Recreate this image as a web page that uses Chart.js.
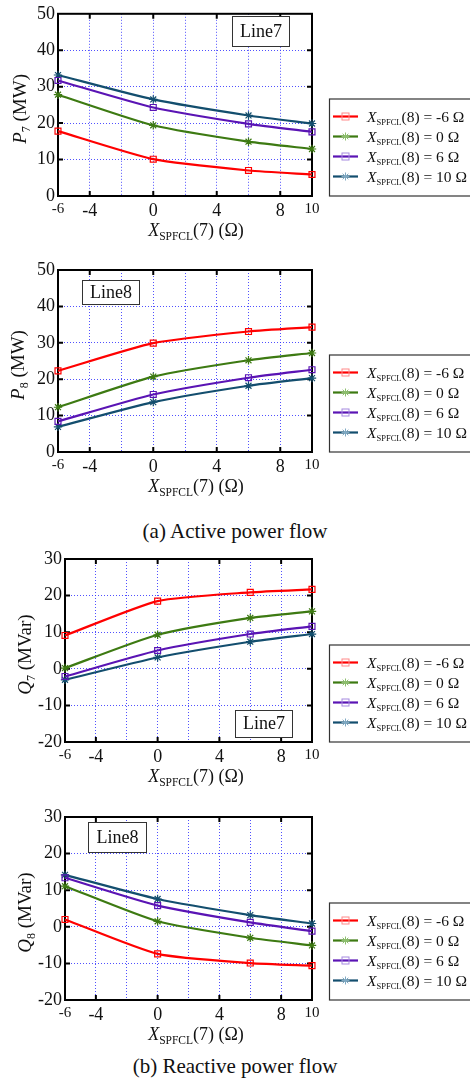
<!DOCTYPE html>
<html>
<head>
<meta charset="utf-8">
<script src="https://cdn.jsdelivr.net/npm/chart.js@4.4.1/dist/chart.umd.min.js"></script>
<style>
  html, body { margin: 0; padding: 0; background: #fff; }
  body { width: 470px; height: 1084px; position: relative; overflow: hidden; }
  .cv { position: absolute; left: 0; }
  .cap { position: absolute; left: 0; width: 470px; text-align: center; font-family: 'Liberation Serif', serif; font-size: 21px; color: #111; }
</style>
</head>
<body>
<div class="cv" style="top:0px;width:470px;height:250px"><canvas id="c1"></canvas></div>
<div class="cv" style="top:250px;width:470px;height:260px"><canvas id="c2"></canvas></div>
<div class="cap" style="top:519px">(a) Active power flow</div>
<div class="cv" style="top:540px;width:470px;height:260px"><canvas id="c3"></canvas></div>
<div class="cv" style="top:800px;width:470px;height:250px"><canvas id="c4"></canvas></div>
<div class="cap" style="top:1054px">(b) Reactive power flow</div>
<script>
// ---------- data ----------
const xValues = [-6, 0, 6, 10];                       // X_SPFCL(7) in ohm
const seriesNames = ['-6', '0', '6', '10'];            // X_SPFCL(8) in ohm
const xTickValues = [-6, -4, -2, 0, 2, 4, 6, 8, 10];
const xTickLabels = ['-6', '-4', '', '0', '', '4', '', '8', '10'];
const pTickValues = [0, 10, 20, 30, 40, 50];
const qTickValues = [-20, -10, 0, 10, 20, 30];

const p7_m6 = [17.8, 10.1, 7.0, 5.9];
const p7_0  = [27.8, 19.4, 14.9, 12.9];
const p7_6  = [31.7, 24.3, 19.8, 17.6];
const p7_10 = [33.2, 26.5, 22.1, 19.9];

const p8_m6 = [22.3, 29.9, 33.1, 34.3];
const p8_0  = [12.3, 20.7, 25.2, 27.2];
const p8_6  = [8.4, 15.8, 20.4, 22.6];
const p8_10 = [6.9, 13.7, 18.2, 20.3];

const q7_m6 = [9.1, 18.5, 20.9, 21.7];
const q7_0  = [0.2, 9.3, 13.9, 15.7];
const q7_6  = [-2.1, 5.0, 9.5, 11.6];
const q7_10 = [-3.0, 3.1, 7.4, 9.5];

const q8_m6 = [2.0, -7.4, -9.9, -10.6];
const q8_0  = [11.1, 1.5, -3.0, -5.1];
const q8_6  = [13.4, 5.8, 1.2, -1.2];
const q8_10 = [14.2, 7.6, 3.2, 0.9];

// ---------- styles ----------
const FONT = "'Liberation Serif', 'Times New Roman', serif";
const lineColors = ['#ff0000', '#3d7a12', '#5a14b4', '#134e6e'];
const legendMarkColors = ['#ff8a8a', '#8cbf6c', '#a58ae0', '#7ea8c2'];
const pointStyles = ['rect', 'star', 'rect', 'star'];
const GRID = 'rgba(50,50,255,0.85)';

function richParts(ctx, parts, x, y, align) {
  let w = 0;
  for (const p of parts) {
    ctx.font = (p.italic ? 'italic ' : '') + p.size + 'px ' + FONT;
    p._w = ctx.measureText(p.t).width;
    w += p._w;
  }
  let cx = align === 'center' ? x - w / 2 : x;
  ctx.textBaseline = 'alphabetic';
  ctx.textAlign = 'left';
  for (const p of parts) {
    ctx.font = (p.italic ? 'italic ' : '') + p.size + 'px ' + FONT;
    ctx.fillText(p.t, cx, y + (p.dy || 0));
    cx += p._w;
  }
}

function makeChart(id, cfg) {
  const datasets = cfg.series.map((vals, i) => ({
    label: seriesNames[i],
    data: xValues.map((x, k) => ({ x: x, y: vals[k] })),
    borderColor: lineColors[i],
    backgroundColor: 'rgba(0,0,0,0)',
    borderWidth: 2.2,
    pointStyle: pointStyles[i],
    pointRadius: 4.2,
    pointBorderWidth: 1.2,
    pointBorderColor: lineColors[i],
    pointBackgroundColor: 'rgba(0,0,0,0)',
    tension: 0.2,
    clip: false
  }));

  const framePlugin = {
    id: 'frame',
    beforeDatasetsDraw(chart) {
      const { ctx, chartArea: a, scales } = chart;
      ctx.save();
      ctx.strokeStyle = '#000';
      ctx.lineWidth = 2;
      ctx.strokeRect(a.left, a.top, a.right - a.left, a.bottom - a.top);
      const tl = 5;
      [-4, 0, 4, 8].forEach(v => {
        const px = scales.x.getPixelForValue(v);
        ctx.beginPath();
        ctx.moveTo(px, a.bottom); ctx.lineTo(px, a.bottom - tl);
        ctx.moveTo(px, a.top); ctx.lineTo(px, a.top + tl);
        ctx.stroke();
      });
      cfg.yTicks.slice(1, -1).forEach(v => {
        const py = scales.y.getPixelForValue(v);
        ctx.beginPath();
        ctx.moveTo(a.left, py); ctx.lineTo(a.left + tl, py);
        ctx.moveTo(a.right, py); ctx.lineTo(a.right - tl, py);
        ctx.stroke();
      });
      ctx.restore();
    },
    afterDraw(chart) {
      const { ctx, chartArea: a } = chart;
      ctx.save();
      ctx.fillStyle = '#111';
      // x axis title
      richParts(ctx, [
        { t: 'X', size: 18, italic: true },
        { t: 'SPFCL', size: 11.5, dy: 4 },
        { t: '(7) (\u03A9)', size: 18 }
      ], 196, a.bottom + 40, 'center');
      // y axis title (rotated)
      ctx.save();
      ctx.translate(cfg.yTitleX, (a.top + a.bottom) / 2 + 4);
      ctx.rotate(-Math.PI / 2);
      richParts(ctx, [
        { t: cfg.yVar, size: 19, italic: true },
        { t: cfg.ySub, size: 12, dy: 4 },
        { t: ' ' + cfg.yUnit, size: 19 }
      ], 0, 6, 'center');
      ctx.restore();
      // Line label box
      const b = cfg.box;
      ctx.fillStyle = '#fff';
      ctx.fillRect(b.x, b.y, b.w, b.h);
      ctx.strokeStyle = '#333';
      ctx.lineWidth = 1;
      ctx.strokeRect(b.x + 0.5, b.y + 0.5, b.w, b.h);
      ctx.fillStyle = '#111';
      ctx.font = '18px ' + FONT;
      ctx.textAlign = 'center';
      ctx.textBaseline = 'middle';
      ctx.fillText(cfg.boxText, b.x + b.w / 2 + 0.5, b.y + b.h / 2 + 1);
      // legend
      const lb = a.bottom;
      const lt = lb - 97;
      ctx.strokeStyle = '#333';
      ctx.lineWidth = 1.2;
      ctx.strokeRect(329.5, lt, 160, lb - lt);
      seriesNames.forEach((name, i) => {
        const y = lb - 79.5 + i * 20;
        ctx.strokeStyle = lineColors[i];
        ctx.lineWidth = 2.2;
        ctx.beginPath();
        ctx.moveTo(333, y); ctx.lineTo(358, y);
        ctx.stroke();
        ctx.strokeStyle = legendMarkColors[i];
        ctx.lineWidth = 1;
        if (pointStyles[i] === 'rect') {
          ctx.strokeRect(342, y - 3.5, 7, 7);
        } else {
          ctx.beginPath();
          const r = 4;
          ctx.moveTo(345.5 - r, y); ctx.lineTo(345.5 + r, y);
          ctx.moveTo(345.5, y - r); ctx.lineTo(345.5, y + r);
          const d = r * 0.707;
          ctx.moveTo(345.5 - d, y - d); ctx.lineTo(345.5 + d, y + d);
          ctx.moveTo(345.5 - d, y + d); ctx.lineTo(345.5 + d, y - d);
          ctx.stroke();
        }
        ctx.fillStyle = '#111';
        richParts(ctx, [
          { t: 'X', size: 15.5, italic: true },
          { t: 'SPFCL', size: 8.5, dy: 3 },
          { t: '(8) = ' + name + ' \u03A9', size: 15.5 }
        ], 367, y + 5, 'left');
      });
      ctx.restore();
    }
  };

  return new Chart(document.getElementById(id), {
    type: 'line',
    data: { datasets },
    options: {
      responsive: true,
      maintainAspectRatio: false,
      animation: false,
      devicePixelRatio: 1,
      layout: { padding: { left: 0, right: 158, top: cfg.padTop, bottom: cfg.padBottom } },
      plugins: { legend: { display: false }, tooltip: { enabled: false } },
      scales: {
        x: {
          type: 'linear', min: -6, max: 10,
          afterBuildTicks: (s) => { s.ticks = xTickValues.map(v => ({ value: v })); },
          afterFit: (s) => { s.height = 26; },
          ticks: {
            autoSkip: false, maxRotation: 0, padding: 4, color: '#111',
            font: (c) => ({ family: FONT, size: (c.tick && (c.tick.value === -6 || c.tick.value === 10)) ? 15 : 18 }),
            callback: (v) => xTickLabels[xTickValues.indexOf(v)]
          },
          grid: {
            drawTicks: false,
            color: (c) => (c.tick && (c.tick.value === -6 || c.tick.value === 10)) ? 'rgba(0,0,0,0)' : GRID,
            lineWidth: 1
          },
          border: { display: false, dash: [1, 2] }
        },
        y: {
          type: 'linear', min: cfg.yTicks[0], max: cfg.yTicks[cfg.yTicks.length - 1],
          afterBuildTicks: (s) => { s.ticks = cfg.yTicks.map(v => ({ value: v })); },
          afterFit: (s) => { s.width = cfg.leftW; },
          ticks: { padding: 3, color: '#111', font: { family: FONT, size: 18 }, callback: (v) => String(v) },
          grid: {
            drawTicks: false,
            color: (c) => (c.index === 0 || c.index === cfg.yTicks.length - 1) ? 'rgba(0,0,0,0)' : GRID,
            lineWidth: 1
          },
          border: { display: false, dash: [1, 2] }
        }
      }
    },
    plugins: [framePlugin]
  });
}

makeChart('c1', {
  series: [p7_m6, p7_0, p7_6, p7_10], yTicks: pTickValues,
  padTop: 13, padBottom: 28, leftW: 58, yTitleX: 20,
  yVar: 'P', ySub: '7', yUnit: '(MW)',
  box: { x: 232, y: 16, w: 57, h: 30 }, boxText: 'Line7'
});
makeChart('c2', {
  series: [p8_m6, p8_0, p8_6, p8_10], yTicks: pTickValues,
  padTop: 20, padBottom: 32, leftW: 58, yTitleX: 18,
  yVar: 'P', ySub: '8', yUnit: '(MW)',
  box: { x: 82, y: 30, w: 57, h: 24 }, boxText: 'Line8'
});
makeChart('c3', {
  series: [q7_m6, q7_0, q7_6, q7_10], yTicks: qTickValues,
  padTop: 19, padBottom: 32, leftW: 65, yTitleX: 25,
  yVar: 'Q', ySub: '7', yUnit: '(MVar)',
  box: { x: 235, y: 170, w: 57, h: 27 }, boxText: 'Line7'
});
makeChart('c4', {
  series: [q8_m6, q8_0, q8_6, q8_10], yTicks: qTickValues,
  padTop: 17, padBottom: 24, leftW: 65, yTitleX: 25,
  yVar: 'Q', ySub: '8', yUnit: '(MVar)',
  box: { x: 88, y: 22, w: 58, h: 30 }, boxText: 'Line8'
});
</script>
</body>
</html>
